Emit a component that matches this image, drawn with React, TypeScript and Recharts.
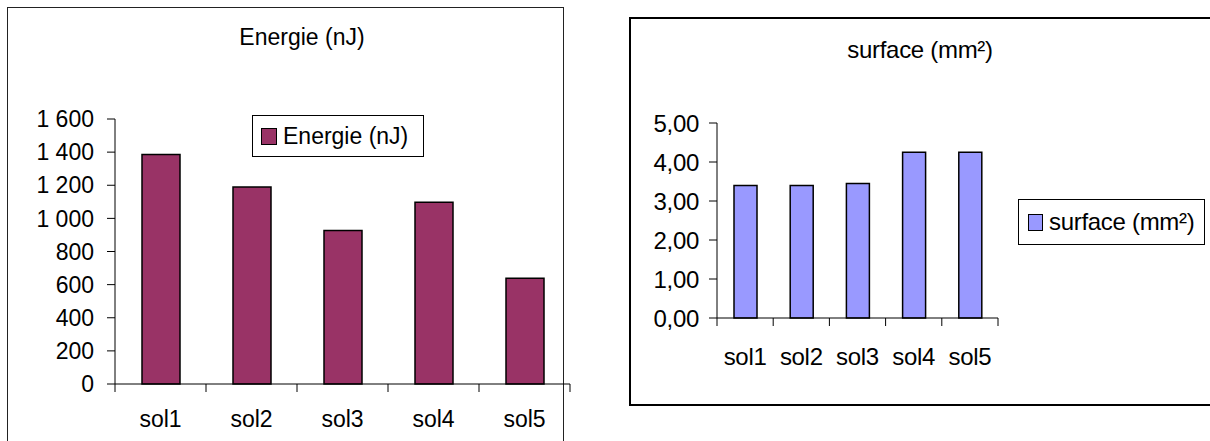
import React from 'react';
import { BarChart, Bar, XAxis, YAxis } from 'recharts';

const categories = ['sol1', 'sol2', 'sol3', 'sol4', 'sol5'];
const energie = [1385, 1190, 927, 1097, 638];
const surface = [3.4, 3.4, 3.45, 4.25, 4.25];
const energieTicks = [0, 200, 400, 600, 800, 1000, 1200, 1400, 1600];
const surfaceTicks = [0, 1, 2, 3, 4, 5];

const FONT = '"Liberation Sans", Arial, sans-serif';

const energieData = categories.map((name, i) => ({ name, value: energie[i] }));
const surfaceData = categories.map((name, i) => ({ name, value: surface[i] }));

// 1600 -> "1 600"
const fmtThousands = (v: number) => String(v).replace(/\B(?=(\d{3})+(?!\d))/g, ' ');
const fmtComma = (v: number) => v.toFixed(2).replace('.', ',');

// category label + Excel-style tick marks on the band edges
function makeCatTick(margin: number, fontSize: number, spacing: number) {
  return function CatTick(props) {
    const { x, y, payload, index } = props;
    const half = payload && payload.offset ? payload.offset : 0;
    const axisY = y - margin;
    const last = index === categories.length - 1;
    return (
      <g>
        <line x1={x - half} x2={x - half} y1={axisY} y2={axisY + 8} stroke="#000" />
        {last && <line x1={x + half} x2={x + half} y1={axisY} y2={axisY + 8} stroke="#000" />}
        <text x={x} y={y} dy="0.71em" textAnchor="middle" fill="#000" fontSize={fontSize} fontFamily={FONT} letterSpacing={spacing}>
          {payload.value}
        </text>
      </g>
    );
  };
}

const LeftTick = makeCatTick(27, 23, 0);
const RightTick = makeCatTick(30, 24, -0.3);

function LegendBox({ label, color, style, fontSize, swatch }) {
  return (
    <div
      style={{
        position: 'absolute',
        border: '1px solid #000',
        background: '#fff',
        boxSizing: 'border-box',
        display: 'flex',
        alignItems: 'center',
        fontFamily: FONT,
        fontSize,
        color: '#000',
        ...style,
      }}
    >
      <span
        style={{
          display: 'inline-block',
          width: swatch[0],
          height: swatch[1],
          background: color,
          border: '1.5px solid #000',
          boxSizing: 'border-box',
          marginRight: 6,
        }}
      />
      <span style={{ whiteSpace: 'nowrap' }}>{label}</span>
    </div>
  );
}

export default function App() {
  return (
    <div style={{ position: 'absolute', left: 0, top: 0, width: 1210, height: 441, background: '#fff', overflow: 'hidden' }}>
      {/* left frame */}
      <div style={{ position: 'absolute', left: 7, top: 7, width: 557, height: 460, border: '1px solid #222', boxSizing: 'border-box' }} />
      {/* right frame */}
      <div style={{ position: 'absolute', left: 629, top: 17, width: 600, height: 389, border: '2px solid #000', boxSizing: 'border-box' }} />

      <div style={{ position: 'absolute', left: 0, top: 24, width: 604, textAlign: 'center', fontFamily: FONT, fontSize: 23 }}>
        Energie (nJ)
      </div>
      <div style={{ position: 'absolute', left: 820, top: 36, width: 200, textAlign: 'center', fontFamily: FONT, fontSize: 24, letterSpacing: -0.3 }}>
        surface (mm²)
      </div>

      <div style={{ position: 'absolute', left: 0, top: 0 }}>
        <BarChart width={600} height={441} data={energieData} margin={{ top: 119, right: 30, bottom: 0, left: 35 }}>
          <XAxis
            dataKey="name"
            height={57}
            tickLine={false}
            tickSize={0}
            tickMargin={27}
            interval={0}
            stroke="#000"
            tick={LeftTick}
          />
          <YAxis
            width={80}
            domain={[0, 1600]}
            ticks={energieTicks}
            interval={0}
            tickSize={8}
            tickMargin={13}
            tickFormatter={fmtThousands}
            stroke="#000"
            tick={{ fill: '#000', fontSize: 23, fontFamily: FONT }}
          />
          <Bar dataKey="value" name="Energie (nJ)" fill="#993366" stroke="#000" strokeWidth={1.5} barSize={38} isAnimationActive={false} />
        </BarChart>
      </div>

      <LegendBox
        label="Energie (nJ)"
        color="#993366"
        fontSize={23}
        swatch={[16, 17]}
        style={{ left: 252, top: 115, width: 172, height: 42, paddingLeft: 8 }}
      />

      <div style={{ position: 'absolute', left: 600, top: 0 }}>
        <BarChart width={610} height={441} data={surfaceData} margin={{ top: 123, right: 212, bottom: 82, left: 37 }}>
          <XAxis
            dataKey="name"
            height={41}
            tickLine={false}
            tickSize={0}
            tickMargin={30}
            interval={0}
            stroke="#000"
            tick={RightTick}
          />
          <YAxis
            width={80}
            domain={[0, 5]}
            ticks={surfaceTicks}
            interval={0}
            tickSize={8}
            tickMargin={10}
            tickFormatter={fmtComma}
            stroke="#000"
            tick={{ fill: '#000', fontSize: 24, fontFamily: FONT, letterSpacing: -0.3 }}
          />
          <Bar dataKey="value" name="surface (mm²)" fill="#9999FF" stroke="#000" strokeWidth={1.5} barSize={23} isAnimationActive={false} />
        </BarChart>
      </div>

      <LegendBox
        label="surface (mm²)"
        color="#9999FF"
        fontSize={24}
        swatch={[15, 17]}
        style={{ left: 1018, top: 199, width: 187, height: 46, paddingLeft: 9, letterSpacing: -0.3 }}
      />
    </div>
  );
}
